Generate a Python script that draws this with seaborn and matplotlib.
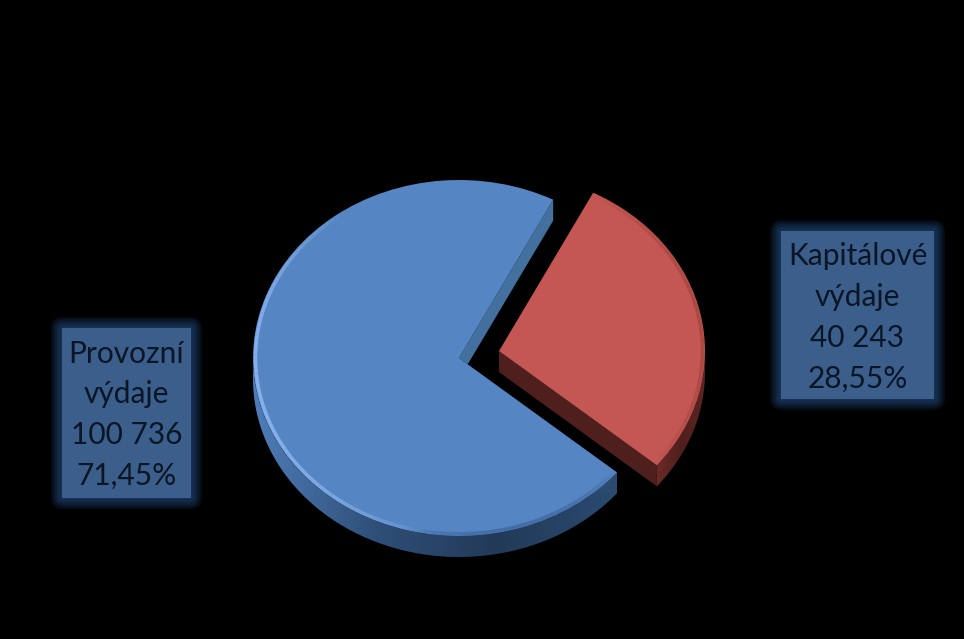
import numpy as np
import matplotlib
matplotlib.use("Agg")
import matplotlib.pyplot as plt
from matplotlib.collections import LineCollection
from matplotlib.patches import FancyBboxPatch, Polygon, PathPatch
from matplotlib.path import Path
from matplotlib.colors import LinearSegmentedColormap, to_rgb
from matplotlib.transforms import Affine2D
import seaborn as sns

# hodnoty z grafu
categories = ["Kapitálové\nvýdaje", "Provozní\nvýdaje"]
amounts = [40243, 100736]
amount_labels = ["40 243", "100 736"]
percent_labels = ["28,55%", "71,45%"]

top_colors = ["#c45753", "#5585c3"]
wall_stops = [["#6a2b28", "#4f1f1d", "#5c2623"], ["#4f7db8", "#2f4f78", "#223a58", "#2a4a70"]]
inner_wall = "#44709f"
box_color = "#3b5e8a"
text_color = "#0a1526"

W, H = 964, 639
CX, CY = 459, 358
RX, RY = 206, 178
DEPTH = 21 / RY
START = 62.8
EXPLODE = 0.198

sns.set_theme(style="white", rc={"figure.facecolor": "black", "axes.facecolor": "black",
                                 "savefig.facecolor": "black"})
plt.rcParams["font.family"] = ["Lato", "DejaVu Sans"]

fig = plt.figure(figsize=(W / 100, H / 100), dpi=100)
ax = fig.add_axes([0, 0, 1, 1])

wedges, _ = ax.pie(amounts, colors=top_colors, startangle=START, counterclock=False,
                   explode=[EXPLODE, 0], radius=1.0,
                   wedgeprops={"linewidth": 0, "zorder": 4})
ax.set_aspect("auto")
ax.set_xlim(-CX / RX, (W - CX) / RX)
ax.set_ylim(-(H - CY) / RY, CY / RY)
ax.axis("off")
red, blue = wedges

# bocni stena jako gradient orezany na vytazeny okraj
for i, w in enumerate(wedges):
    cx, cy = w.center
    t = np.radians(np.linspace(max(w.theta1, -180), min(w.theta2, 0), 120))
    xs, ys = cx + np.cos(t), cy + np.sin(t)
    verts = np.r_[np.c_[xs, ys], np.c_[xs[::-1], ys[::-1] - DEPTH]]
    clip = PathPatch(Path(np.r_[verts, verts[:1]], closed=True), transform=ax.transData, fc="none", ec="none")
    ax.add_patch(clip)
    cmap = LinearSegmentedColormap.from_list("wall", wall_stops[i])
    im = ax.imshow(np.linspace(0, 1, 256).reshape(1, -1), cmap=cmap, aspect="auto", zorder=2,
                   extent=[xs.min(), xs.max(), ys.min() - DEPTH, ys.max()])
    im.set_clip_path(clip)
ax.set_xlim(-CX / RX, (W - CX) / RX)
ax.set_ylim(-(H - CY) / RY, CY / RY)

# vnitrni stena modre vysece viditelna ve spare
a = np.radians(blue.theta1)
b = np.radians(blue.theta2)
u, v = np.linalg.solve([[np.cos(a), -np.cos(b)], [np.sin(a), -np.sin(b)]], [0, DEPTH])
ax.add_patch(Polygon([(0, 0), (np.cos(a), np.sin(a)), (np.cos(a), np.sin(a) - DEPTH),
                      (v * np.cos(b), v * np.sin(b))], closed=True, fc=inner_wall, ec="none", zorder=2.5))
ax.add_patch(Polygon([(np.cos(b), np.sin(b)), (np.cos(b), np.sin(b) - DEPTH), (0.6, np.sin(b) - DEPTH),
                      (0.6, np.sin(b))], closed=True, fc=wall_stops[1][3], ec="none", zorder=2.2))

# predni rez cervene vysece
rx0, ry0 = red.center
end = np.radians(red.theta1)
ax.add_patch(Polygon([(rx0, ry0), (rx0 + np.cos(end), ry0 + np.sin(end)),
                      (rx0 + np.cos(end), ry0 + np.sin(end) - DEPTH), (rx0, ry0 - DEPTH)],
                     closed=True, fc="#4f1f1d", ec="none", zorder=2.5))


def bevel(center, t1, t2, color, peak, radius=0.988, lw=2.6):
    # svetly nebo tmavy okraj, ktery se ke koncum vytraci
    t = np.radians(np.linspace(t1, t2, 90))
    pts = np.c_[center[0] + radius * np.cos(t), center[1] + radius * np.sin(t)]
    segs = np.stack([pts[:-1], pts[1:]], axis=1)
    fade = np.sin(np.linspace(0, np.pi, len(segs))) ** 0.7 * peak
    rgba = [(*to_rgb(color), f) for f in fade]
    ax.add_collection(LineCollection(segs, colors=rgba, linewidths=lw, zorder=5, capstyle="butt"),
                      autolim=False)


bevel(blue.center, 125, 262, "#8ab4ee", 0.95)
bevel(blue.center, 255, 320, "#3c6298", 0.7)
bevel(red.center, -40, 62, "#a5453f", 0.8)

# popisky
to_px = Affine2D().scale(1 / W, -1 / H).translate(0, 1) + ax.transAxes
boxes = [(781, 231, 153, 168), (62, 328, 129, 170)]
text_y = [[256, 297, 338, 379], [354, 394, 435, 476]]
for i, (x, y, w, h) in enumerate(boxes):
    for pad in [11, 9, 7, 5, 3, 1]:
        ax.add_patch(FancyBboxPatch((x - pad, y - pad), w + 2 * pad, h + 2 * pad,
                                    boxstyle=f"round,pad=0,rounding_size={pad + 1}", transform=to_px,
                                    fc="#2a5c9c", ec="none", alpha=0.13, zorder=5))
    ax.add_patch(plt.Rectangle((x, y), w, h, transform=to_px, fc=box_color, ec="none", zorder=6))
    lines = categories[i].split("\n") + [amount_labels[i], percent_labels[i]]
    for line, ty in zip(lines, text_y[i]):
        ax.text(x + w / 2, ty, line, transform=to_px, ha="center", va="center",
                color=text_color, fontsize=21.5, zorder=7)

fig.savefig("out.png", dpi=100, facecolor="black")
